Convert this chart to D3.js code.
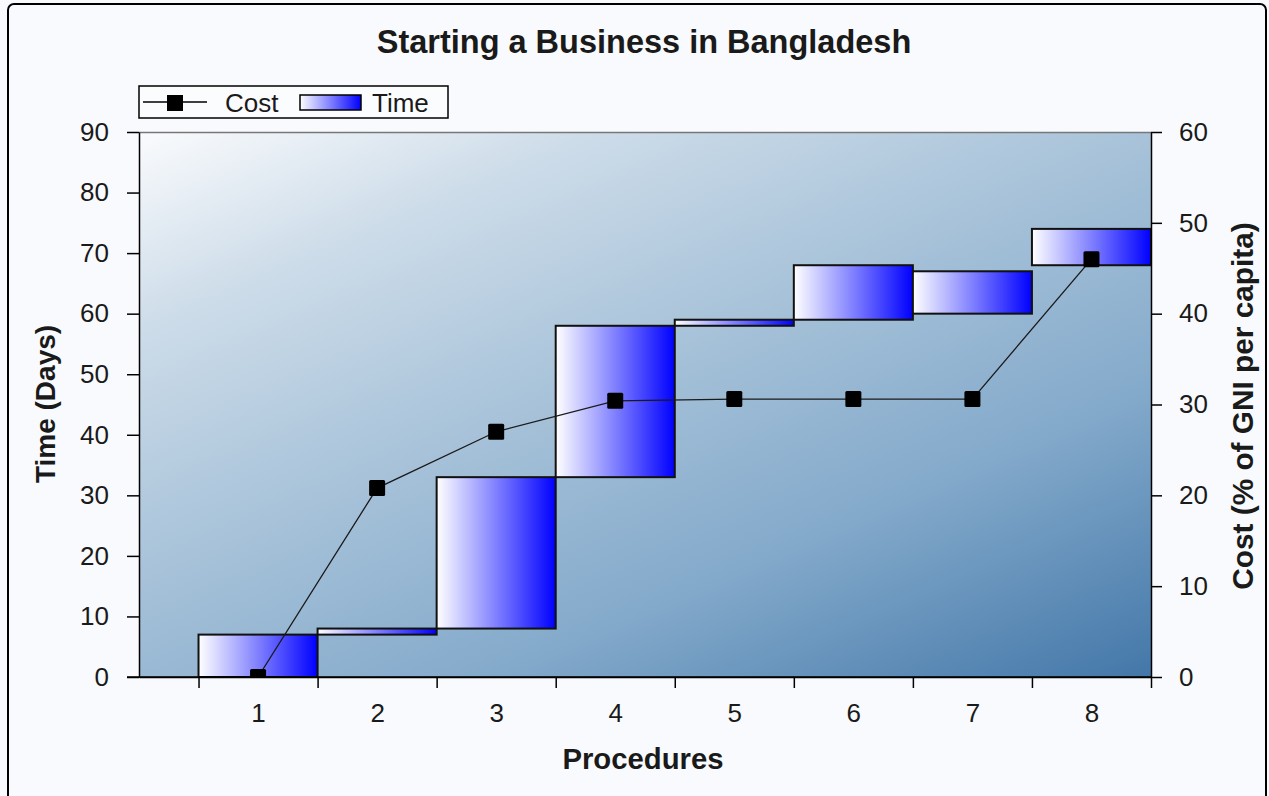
<!DOCTYPE html>
<html>
<head>
<meta charset="utf-8">
<script src="https://cdn.jsdelivr.net/npm/d3@7"></script>
<style>
  html, body { margin: 0; padding: 0; background: #f9fafd; }
  svg { display: block; }
  text { font-family: "Liberation Sans", Arial, sans-serif; fill: #1a1a1a; }
</style>
</head>
<body>
<svg id="chart" width="1269" height="796"></svg>
<script>
// ---- data ----
const categories = ["1", "2", "3", "4", "5", "6", "7", "8"];
const timeStart = [0, 7, 8, 33, 58, 59, 60, 68];
const timeEnd   = [7, 8, 33, 58, 59, 68, 67, 74];
const costValues = [0, 20.8, 27.0, 30.4, 30.6, 30.6, 30.6, 46.0];
const timeTicks = [0, 10, 20, 30, 40, 50, 60, 70, 80, 90];
const costTicks = [0, 10, 20, 30, 40, 50, 60];
const titleText = "Starting a Business in Bangladesh";
const xTitle = "Procedures";
const yLeftTitle = "Time (Days)";
const yRightTitle = "Cost (% of GNI per capita)";
const legendLabels = ["Cost", "Time"];

// ---- layout ----
const W = 1269, H = 796;
const plot = { left: 139, right: 1151, top: 132, bottom: 677 };

const svg = d3.select("#chart");
const defs = svg.append("defs");

// outer frame
svg.append("rect").attr("x", 8).attr("y", 4).attr("width", 1258).attr("height", 830)
  .attr("rx", 6).attr("fill", "#f9fafd").attr("stroke", "#000").attr("stroke-width", 2);

// plot background gradient (isolines rising to the right at a shallow angle)
const gx = 0.4, gy = 0.92, glen = (plot.right - plot.left) * gx + (plot.bottom - plot.top) * gy;
const bg = defs.append("linearGradient").attr("id", "plotBg")
  .attr("gradientUnits", "userSpaceOnUse")
  .attr("x1", plot.left).attr("y1", plot.top)
  .attr("x2", plot.left + glen * gx).attr("y2", plot.top + glen * gy);
[[0, "#fafbfd"], [0.2, "#cddce9"], [0.45, "#a7c2d9"], [0.7, "#84aacb"], [1, "#4276a8"]]
  .forEach(([o, c]) => bg.append("stop").attr("offset", o).attr("stop-color", c));

// bar gradient
const bg2 = defs.append("linearGradient").attr("id", "barGrad")
  .attr("x1", "0").attr("y1", "0").attr("x2", "1").attr("y2", "0");
bg2.append("stop").attr("offset", "0").attr("stop-color", "#ffffff");
bg2.append("stop").attr("offset", "1").attr("stop-color", "#0000ff");

defs.append("clipPath").attr("id", "plotClip").append("rect")
  .attr("x", plot.left).attr("y", plot.top)
  .attr("width", plot.right - plot.left).attr("height", plot.bottom - plot.top);

// scales
const x = d3.scaleLinear().domain([0, categories.length + 0.5]).range([plot.left, plot.right]);
const yT = d3.scaleLinear().domain([0, 90]).range([plot.bottom, plot.top]);
const yC = d3.scaleLinear().domain([0, 60]).range([plot.bottom, plot.top]);

// plot area
svg.append("rect").attr("x", plot.left).attr("y", plot.top)
  .attr("width", plot.right - plot.left).attr("height", plot.bottom - plot.top)
  .attr("fill", "url(#plotBg)");
svg.append("line").attr("x1", plot.left).attr("x2", plot.right)
  .attr("y1", plot.top + 0.5).attr("y2", plot.top + 0.5)
  .attr("stroke", "#777").attr("stroke-width", 1.5);

// bars
const bars = categories.map((c, i) => ({ c, i, s: timeStart[i], e: timeEnd[i] }));
svg.append("g").selectAll("rect").data(bars).join("rect")
  .attr("x", d => x(d.i + 0.5))
  .attr("width", d => x(d.i + 1.5) - x(d.i + 0.5))
  .attr("y", d => yT(d.e))
  .attr("height", d => yT(d.s) - yT(d.e))
  .attr("fill", "url(#barGrad)")
  .attr("stroke", "#111").attr("stroke-width", 2);

// cost line
const costPts = categories.map((c, i) => ({ i, v: costValues[i] }));
const gLine = svg.append("g").attr("clip-path", "url(#plotClip)");
gLine.append("path").datum(costPts)
  .attr("d", d3.line().x(d => x(d.i + 1)).y(d => yC(d.v)))
  .attr("fill", "none").attr("stroke", "#1a1a1a").attr("stroke-width", 1.3);
gLine.selectAll("rect.m").data(costPts).join("rect").attr("class", "m")
  .attr("x", d => x(d.i + 1) - 8).attr("y", d => yC(d.v) - 8)
  .attr("width", 16).attr("height", 16).attr("rx", 1.5).attr("fill", "#000");

// axes
const axisStyle = g => {
  g.selectAll("path, line").attr("stroke", "#000").attr("stroke-width", 1.5);
  g.selectAll("text").style("font-size", "26px").attr("fill", "#1a1a1a")
    .style("font-family", "'Liberation Sans', Arial, sans-serif");
};
svg.append("g").attr("transform", `translate(${plot.left},0)`)
  .call(d3.axisLeft(yT).tickValues(timeTicks).tickSize(12).tickPadding(18).tickSizeOuter(0))
  .call(axisStyle);
svg.append("g").attr("transform", `translate(${plot.right},0)`)
  .call(d3.axisRight(yC).tickValues(costTicks).tickSize(11).tickPadding(17).tickSizeOuter(0))
  .call(axisStyle);
// bottom boundary ticks
const bounds = d3.range(0.5, categories.length + 1, 1);
svg.append("g").attr("transform", `translate(0,${plot.bottom})`)
  .call(d3.axisBottom(x).tickValues(bounds).tickFormat("").tickSize(11).tickSizeOuter(0))
  .call(axisStyle);
// bottom labels
svg.append("g").attr("transform", `translate(0,${plot.bottom})`)
  .call(d3.axisBottom(x).tickValues(categories.map((c, i) => i + 1))
    .tickFormat((d, i) => categories[i]).tickSize(0).tickPadding(27))
  .call(axisStyle)
  .call(g => g.select(".domain").remove());
// zero line extension to the left tick
svg.append("line").attr("x1", plot.left - 12).attr("x2", plot.right)
  .attr("y1", plot.bottom).attr("y2", plot.bottom).attr("stroke", "#000").attr("stroke-width", 1.5);

// titles
svg.append("text").attr("x", 644).attr("y", 53).attr("text-anchor", "middle")
  .style("font-size", "32.5px").style("font-weight", "bold").text(titleText);
svg.append("text").attr("x", 643).attr("y", 769).attr("text-anchor", "middle")
  .style("font-size", "29.3px").style("font-weight", "bold").text(xTitle);
svg.append("text").attr("transform", "translate(55,404) rotate(-90)").attr("text-anchor", "middle")
  .style("font-size", "28px").style("font-weight", "bold").text(yLeftTitle);
svg.append("text").attr("transform", "translate(1253,406) rotate(-90)").attr("text-anchor", "middle")
  .style("font-size", "29.8px").style("font-weight", "bold").text(yRightTitle);

// legend
const lg = svg.append("g");
lg.append("rect").attr("x", 139).attr("y", 86).attr("width", 309).attr("height", 32)
  .attr("fill", "#fbfcfe").attr("stroke", "#000").attr("stroke-width", 1.5);
lg.append("line").attr("x1", 143).attr("x2", 207).attr("y1", 102).attr("y2", 102)
  .attr("stroke", "#000").attr("stroke-width", 1.5);
lg.append("rect").attr("x", 167).attr("y", 95).attr("width", 16).attr("height", 16).attr("fill", "#000");
lg.append("text").attr("x", 225).attr("y", 112).style("font-size", "26px").text(legendLabels[0]);
lg.append("rect").attr("x", 300).attr("y", 95).attr("width", 61).attr("height", 15)
  .attr("fill", "url(#barGrad)").attr("stroke", "#000").attr("stroke-width", 1.5);
lg.append("text").attr("x", 372).attr("y", 112).style("font-size", "26px").text(legendLabels[1]);
</script>
</body>
</html>
